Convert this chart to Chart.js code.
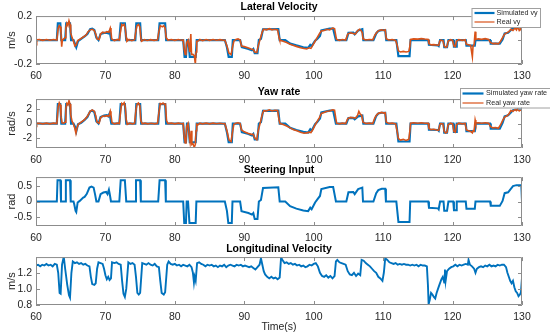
<!DOCTYPE html>
<html>
<head>
<meta charset="utf-8">
<script src="https://cdn.jsdelivr.net/npm/chart.js@4.4.0/dist/chart.umd.min.js"></script>
<style>
  html, body { margin: 0; padding: 0; background: #fff; }
  #wrap { position: relative; width: 550px; height: 334px; overflow: hidden; }
  #wrap canvas { position: absolute; left: 0; }
</style>
</head>
<body>
<div id="wrap">
  <canvas id="c1" width="550" height="82" style="top:0"></canvas>
  <canvas id="c2" width="550" height="82" style="top:82px"></canvas>
  <canvas id="c3" width="550" height="82" style="top:163px"></canvas>
  <canvas id="c4" width="550" height="91" style="top:243px"></canvas>
</div>
<script>
// datos: [tiempo (s), valor]
const vySim = [[60,0],[63.0,0],[63.15,0.14],[63.5,0.14],[63.65,0],[64.2,0],[64.35,0.14],[64.9,0.14],[65.05,0],[65.4,0],[65.6,-0.03],[65.8,-0.06],[66.05,-0.01],[66.5,0.01],[67.0,0.03],[67.4,0.05],[67.8,0.09],[68.1,0.095],[68.4,0.085],[68.7,0.02],[69.0,0],[69.3,0.05],[69.8,0.06],[70.2,0.06],[70.4,0.055],[70.6,0.075],[70.85,0],[72.0,0],[72.2,0.14],[72.8,0.14],[73.0,0],[74.3,0],[74.45,0.14],[75.0,0.14],[75.15,0],[77.6,0],[77.8,0.14],[78.6,0.14],[78.75,0],[81.2,0],[81.4,-0.14],[81.6,-0.14],[81.75,0],[81.95,0],[82.15,-0.14],[83.0,-0.14],[83.15,0],[87.2,0],[87.5,-0.06],[87.75,-0.14],[88.2,-0.14],[88.35,0],[89.4,0],[89.65,-0.06],[90.6,-0.075],[91.1,-0.085],[91.3,-0.075],[91.5,-0.11],[91.9,-0.11],[92.1,0],[92.4,0.01],[92.7,0.09],[94.9,0.092],[95.1,0],[95.9,0],[96.6,-0.03],[97.5,-0.045],[98.5,-0.06],[99.2,-0.065],[99.5,-0.04],[99.7,-0.05],[100.2,-0.005],[100.5,0.01],[100.9,0.035],[101.1,0.08],[102.3,0.095],[102.8,0.095],[103.2,0],[104.7,0],[105.0,0.06],[105.7,0.062],[105.9,0.048],[106.4,0.08],[107.0,0.09],[107.15,0],[108.6,0],[109.0,0.055],[109.3,0.075],[109.8,0.082],[110.3,0.082],[110.45,0],[111.9,0],[112.2,-0.135],[113.8,-0.135],[113.95,0],[116.5,0],[116.6,-0.04],[117.9,-0.045],[118.0,-0.05],[118.2,0],[118.7,0],[118.8,-0.06],[119.2,-0.06],[119.4,0],[120.1,0],[120.2,-0.056],[120.5,-0.056],[120.6,0],[121.9,0],[122.0,-0.046],[123.2,-0.046],[123.3,0],[125.4,0],[125.5,-0.03],[126.8,-0.03],[127.2,0.005],[127.5,0.055],[128.0,0.06],[128.7,0.1],[129.2,0.106],[130,0.106]];

const vyReal = [[60,0],[60.1,-0.015],[60.2,0.002],[60.5,0.003],[61,-0.003],[61.5,0.004],[62,-0.002],[62.5,0.004],[63.0,0],[63.1,0.05],[63.2,0.1],[63.35,0.12],[63.5,0.11],[63.6,0.06],[63.7,-0.055],[63.8,0],[64.0,0.01],[64.2,0.02],[64.3,0.1],[64.45,0.14],[64.6,0.12],[64.75,0.16],[64.9,0.13],[65.0,0.06],[65.2,0.02],[65.4,-0.01],[65.6,-0.05],[65.8,-0.04],[66.0,-0.005],[66.4,0.01],[66.8,0.025],[67.2,0.04],[67.5,0.07],[67.8,0.085],[68.1,0.09],[68.4,0.08],[68.6,0.05],[68.8,0.01],[69.1,0.005],[69.3,0.05],[69.6,0.065],[69.9,0.06],[70.2,0.07],[70.5,0.065],[70.7,0.1],[70.8,0.07],[70.9,0.01],[71.3,-0.005],[71.7,0.005],[72.0,0],[72.2,0.08],[72.35,0.13],[72.5,0.12],[72.7,0.13],[72.85,0.1],[73.0,0.02],[73.1,-0.01],[73.4,0.005],[73.8,-0.005],[74.2,0.003],[74.4,0.08],[74.55,0.12],[74.75,0.13],[74.95,0.11],[75.1,0.02],[75.2,-0.01],[75.6,0.004],[76,-0.004],[76.5,0.003],[77,-0.003],[77.5,0.002],[77.7,0.07],[77.9,0.12],[78.2,0.11],[78.4,0.12],[78.6,0.1],[78.75,0.02],[79,0],[79.5,0.004],[80,-0.003],[80.5,0.004],[81,-0.002],[81.2,0],[81.35,-0.08],[81.5,-0.12],[81.6,-0.1],[81.7,-0.02],[81.9,0],[82.05,-0.06],[82.15,-0.1],[82.3,0.05],[82.4,-0.12],[82.6,-0.12],[82.8,-0.13],[82.95,-0.2],[83.05,-0.1],[83.15,-0.01],[83.3,-0.01],[83.6,0.005],[84,-0.005],[84.5,0.004],[85,-0.003],[85.5,0.004],[86,-0.002],[86.5,0.003],[87,-0.002],[87.2,0],[87.5,-0.05],[87.8,-0.11],[88.1,-0.12],[88.3,-0.06],[88.5,-0.01],[88.8,0.005],[89.1,0.01],[89.4,0],[89.6,-0.05],[90.0,-0.055],[90.5,-0.065],[91.0,-0.075],[91.3,-0.08],[91.5,-0.1],[91.8,-0.105],[92.0,-0.05],[92.3,0.01],[92.6,0.07],[92.8,0.09],[93.2,0.085],[93.6,0.095],[94,0.085],[94.4,0.09],[94.8,0.085],[95.0,0.02],[95.1,0],[95.6,-0.01],[96.1,-0.02],[96.6,-0.035],[97.1,-0.045],[97.6,-0.055],[98.1,-0.065],[98.6,-0.07],[99.0,-0.075],[99.3,-0.065],[99.6,-0.07],[99.9,-0.04],[100.2,-0.01],[100.5,0.02],[100.8,0.05],[101.1,0.075],[101.5,0.08],[101.9,0.09],[102.3,0.085],[102.7,0.1],[103.0,0.095],[103.2,0.03],[103.3,0.005],[103.7,-0.003],[104.1,0.004],[104.6,0],[104.9,0.05],[105.3,0.06],[105.7,0.055],[106.0,0.05],[106.3,0.075],[106.6,0.09],[106.8,0.08],[107.0,0.06],[107.1,0.01],[107.5,0],[108.0,0.005],[108.5,0.002],[108.8,0.04],[109.1,0.065],[109.4,0.08],[109.8,0.085],[110.1,0.08],[110.3,0.085],[110.45,0.01],[110.8,0],[111.3,0.004],[111.8,-0.003],[112.0,-0.04],[112.2,-0.09],[112.5,-0.1],[112.9,-0.095],[113.3,-0.1],[113.7,-0.095],[113.85,-0.05],[113.95,0.005],[114.4,0.01],[115,0.008],[115.5,0.012],[116,0.008],[116.5,0.005],[116.6,-0.03],[116.9,-0.04],[117.3,-0.038],[117.7,-0.042],[118.0,-0.045],[118.15,-0.01],[118.3,0],[118.6,-0.005],[118.8,-0.05],[119.0,-0.06],[119.2,-0.055],[119.35,-0.01],[119.7,0.003],[120.0,-0.002],[120.2,-0.05],[120.4,-0.055],[120.55,-0.01],[120.9,0.004],[121.4,-0.003],[121.8,0.002],[122.0,-0.035],[122.3,-0.04],[122.6,-0.045],[122.85,-0.14],[122.95,-0.05],[123.1,-0.04],[123.25,0.07],[123.35,0.005],[123.7,0.01],[124.2,0.006],[124.7,0.012],[125.2,0.005],[125.45,-0.02],[125.8,-0.03],[126.2,-0.028],[126.6,-0.032],[126.9,-0.01],[127.2,0.02],[127.5,0.05],[127.8,0.06],[128.1,0.07],[128.4,0.09],[128.7,0.08],[129.0,0.1],[129.2,0.085],[129.4,0.11],[129.6,0.08],[129.8,0.095],[130,0.07]];

const yawSim = [[60,0],[63.0,0],[63.15,2.7],[63.5,2.7],[63.65,0],[64.2,0],[64.35,2.7],[64.9,2.7],[65.05,0],[65.4,0],[65.6,-0.4],[65.8,-1.1],[66.05,-0.1],[66.5,0.1],[67.0,0.5],[67.4,0.9],[67.8,1.7],[68.1,1.8],[68.4,1.6],[68.7,0.3],[69.0,0],[69.3,0.9],[69.8,1.1],[70.2,1.15],[70.4,1.0],[70.6,1.4],[70.85,0],[72.0,0],[72.2,2.7],[72.8,2.7],[73.0,0],[74.3,0],[74.45,2.7],[75.0,2.7],[75.15,0],[77.6,0],[77.8,2.7],[78.6,2.7],[78.75,0],[81.2,0],[81.4,-2.6],[81.6,-2.6],[81.75,0],[81.95,0],[82.15,-2.6],[83.0,-2.6],[83.15,0],[87.2,0],[87.5,-1.2],[87.75,-2.6],[88.2,-2.6],[88.35,0],[89.4,0],[89.65,-1.2],[90.6,-1.45],[91.1,-1.65],[91.3,-1.45],[91.5,-2.2],[91.9,-2.2],[92.1,0],[92.4,0.2],[92.7,1.75],[94.9,1.8],[95.1,0],[95.9,0],[96.6,-0.6],[97.5,-0.9],[98.5,-1.15],[99.2,-1.25],[99.5,-0.8],[99.7,-1.0],[100.2,-0.1],[100.5,0.2],[100.9,0.7],[101.1,1.55],[102.3,1.8],[102.8,1.8],[103.2,0],[104.7,0],[105.0,0.75],[105.7,0.78],[105.9,0.6],[106.4,1.0],[107.0,1.1],[107.15,0],[108.6,0],[109.0,1.05],[109.3,1.4],[109.8,1.5],[110.3,1.5],[110.45,0],[111.9,0],[112.2,-2.5],[113.8,-2.5],[113.95,0],[116.5,0],[116.6,-0.85],[117.9,-0.9],[118.0,-1.0],[118.2,0],[118.7,0],[118.8,-1.25],[119.2,-1.25],[119.4,0],[120.1,0],[120.2,-1.15],[120.5,-1.15],[120.6,0],[121.9,0],[122.0,-1.05],[123.2,-1.05],[123.3,0],[125.4,0],[125.5,-0.7],[126.8,-0.7],[127.2,0.1],[127.5,1.0],[128.0,1.15],[128.7,1.85],[129.2,1.95],[130,1.95]];

const yawReal = [[60,-0.4],[60.1,0.05],[60.5,0.05],[61,-0.05],[61.5,0.06],[62,-0.04],[62.5,0.05],[63,0],[63.1,1.2],[63.2,2.4],[63.35,2.9],[63.5,2.6],[63.6,1.0],[63.75,0.1],[64.0,0.05],[64.2,0.2],[64.3,2.0],[64.45,2.8],[64.6,2.6],[64.75,3.2],[64.9,2.7],[65.0,1.2],[65.2,0.3],[65.4,-0.1],[65.6,-0.7],[65.75,-1.35],[65.9,-0.6],[66.1,-0.1],[66.5,0.2],[67.0,0.55],[67.4,1.0],[67.8,1.7],[68.1,1.9],[68.4,1.7],[68.6,1.1],[68.8,0.2],[69.1,0.05],[69.3,0.8],[69.6,1.05],[69.9,1.0],[70.2,1.1],[70.5,1.0],[70.7,1.7],[70.8,1.2],[70.95,0.1],[71.3,-0.05],[71.7,0.05],[72.0,0],[72.2,1.8],[72.35,2.8],[72.5,2.65],[72.7,2.9],[72.85,2.4],[73.0,0.5],[73.15,-0.1],[73.5,0.05],[73.9,-0.05],[74.2,0.03],[74.4,1.9],[74.55,2.7],[74.75,2.85],[74.95,2.5],[75.1,0.4],[75.3,-0.05],[75.7,0.05],[76.1,-0.05],[76.6,0.04],[77.1,-0.04],[77.5,0.03],[77.7,1.5],[77.9,2.8],[78.1,2.7],[78.3,2.85],[78.5,2.65],[78.65,2.7],[78.8,0.4],[79.0,0],[79.5,0.05],[80,-0.05],[80.5,0.05],[81,-0.03],[81.2,0],[81.35,-1.8],[81.5,-2.7],[81.6,-2.4],[81.7,-0.4],[81.9,0],[82.05,-1.5],[82.2,-2.6],[82.35,-1.0],[82.45,-2.9],[82.6,-2.8],[82.8,-3.3],[82.95,-2.9],[83.05,-1.0],[83.15,-0.1],[83.3,-0.2],[83.6,0.05],[84,-0.05],[84.5,0.05],[85,-0.04],[85.5,0.05],[86,-0.03],[86.5,0.04],[87,-0.03],[87.2,0],[87.5,-1.0],[87.8,-2.3],[88.1,-2.5],[88.3,-1.2],[88.5,-0.1],[88.8,0.05],[89.1,0.1],[89.4,0],[89.6,-0.9],[90.0,-1.15],[90.5,-1.35],[91.0,-1.5],[91.3,-1.5],[91.5,-2.0],[91.8,-2.25],[92.0,-1.0],[92.3,0.1],[92.6,1.3],[92.8,1.8],[93.2,1.75],[93.6,1.9],[94,1.75],[94.4,1.85],[94.8,1.8],[95.0,0.5],[95.15,0],[95.6,-0.15],[96.1,-0.35],[96.6,-0.6],[97.1,-0.85],[97.6,-1.0],[98.1,-1.2],[98.6,-1.35],[99.0,-1.3],[99.3,-1.2],[99.6,-1.25],[99.9,-0.8],[100.2,-0.2],[100.5,0.3],[100.8,0.8],[101.1,1.4],[101.5,1.55],[101.9,1.7],[102.3,1.75],[102.7,1.9],[103.0,1.85],[103.2,0.6],[103.3,0.05],[103.7,-0.05],[104.1,0.05],[104.6,0],[104.9,0.7],[105.3,0.85],[105.7,0.8],[106.0,0.75],[106.3,1.1],[106.5,1.7],[106.7,1.3],[106.9,1.15],[107.1,0.2],[107.5,0],[108.0,0.05],[108.5,0],[108.8,0.8],[109.1,1.25],[109.4,1.45],[109.8,1.55],[110.1,1.45],[110.3,1.5],[110.45,0.2],[110.8,0],[111.3,0.05],[111.8,-0.04],[112.0,-1.0],[112.2,-2.1],[112.5,-2.3],[112.9,-2.2],[113.3,-2.35],[113.7,-2.2],[113.85,-1.0],[113.95,0.05],[114.4,0.1],[115,0.05],[115.5,0.1],[116,0.05],[116.5,0.05],[116.6,-0.7],[116.9,-0.85],[117.3,-0.8],[117.7,-0.9],[118.0,-0.95],[118.15,-0.2],[118.3,0],[118.6,-0.05],[118.8,-1.1],[119.0,-1.3],[119.2,-1.2],[119.35,-0.2],[119.7,0.05],[120.0,-0.05],[120.2,-1.1],[120.4,-1.2],[120.55,-0.2],[120.9,0.05],[121.4,-0.05],[121.8,0.03],[122.0,-0.9],[122.3,-1.0],[122.6,-1.1],[122.85,-1.3],[122.95,-1.0],[123.1,-1.05],[123.25,0.5],[123.35,0.05],[123.7,0.1],[124.2,0.05],[124.7,0.1],[125.2,0.05],[125.45,-0.4],[125.8,-0.6],[126.2,-0.55],[126.6,-0.65],[126.9,-0.2],[127.2,0.4],[127.5,0.9],[127.8,1.05],[128.1,1.3],[128.4,1.8],[128.7,1.7],[129.0,1.95],[129.2,1.8],[129.4,2.0],[129.6,1.75],[129.8,1.9],[130,1.8]];

const steer = [[60,0],[63.0,0],[63.1,0.69],[63.5,0.69],[63.6,0],[64.2,0],[64.3,0.69],[64.9,0.69],[65.0,0],[65.4,0],[65.5,-0.08],[65.7,-0.3],[65.8,-0.34],[66.0,-0.03],[66.3,0.02],[66.8,0.13],[67.0,0.15],[67.3,0.24],[67.7,0.45],[68.0,0.48],[68.3,0.45],[68.5,0.24],[68.7,0],[69.0,0],[69.3,0.24],[69.7,0.29],[70.1,0.31],[70.3,0.24],[70.5,0.38],[70.6,0.27],[70.8,0],[72.0,0],[72.2,0.69],[72.8,0.69],[73.0,0],[74.3,0],[74.4,0.69],[75.0,0.69],[75.1,0],[77.6,0],[77.8,0.69],[78.6,0.69],[78.7,0],[81.2,0],[81.35,-0.69],[81.6,-0.69],[81.7,0],[81.9,0],[82.1,-0.69],[83.0,-0.69],[83.1,0],[87.2,0],[87.5,-0.3],[87.7,-0.69],[88.2,-0.69],[88.3,0],[89.4,0],[89.6,-0.31],[90.6,-0.37],[91.1,-0.42],[91.3,-0.37],[91.5,-0.56],[91.9,-0.56],[92.1,0],[92.4,0.05],[92.7,0.44],[94.9,0.46],[95.1,0],[95.9,0],[96.6,-0.15],[97.5,-0.23],[98.5,-0.29],[99.2,-0.31],[99.5,-0.2],[99.7,-0.25],[100.2,-0.03],[100.5,0.06],[100.9,0.18],[101.1,0.4],[102.3,0.47],[102.8,0.47],[103.2,0],[104.7,0],[105.0,0.3],[105.7,0.31],[105.9,0.24],[106.4,0.4],[107.0,0.45],[107.1,0],[108.6,0],[109.0,0.27],[109.3,0.37],[109.8,0.41],[110.3,0.41],[110.4,0],[111.9,0],[112.2,-0.66],[113.8,-0.66],[113.9,0],[116.5,0],[116.6,-0.2],[117.9,-0.22],[118.0,-0.25],[118.2,0],[118.7,0],[118.8,-0.3],[119.2,-0.3],[119.4,0],[120.1,0],[120.2,-0.28],[120.5,-0.28],[120.6,0],[121.9,0],[122.0,-0.23],[123.2,-0.23],[123.3,0],[125.4,0],[125.5,-0.14],[126.8,-0.14],[127.2,0.02],[127.5,0.27],[128.0,0.3],[128.7,0.5],[129.2,0.53],[129.9,0.53],[130,0]];

const longV = [[60,1.29],[60.3,1.3],[60.6,1.28],[60.9,1.3],[61.2,1.29],[61.5,1.31],[61.8,1.29],[62.1,1.3],[62.4,1.28],[62.7,1.31],[63.0,1.3],[63.2,1.2],[63.4,0.95],[63.55,0.94],[63.75,1.3],[64.0,1.4],[64.2,1.25],[64.5,1.05],[64.75,0.92],[64.9,0.89],[65.1,1.2],[65.3,1.34],[65.6,1.32],[65.9,1.33],[66.2,1.31],[66.5,1.32],[66.8,1.3],[67.1,1.31],[67.4,1.29],[67.7,1.28],[67.9,1.15],[68.1,1.06],[68.4,1.05],[68.6,1.07],[68.8,1.25],[69.0,1.33],[69.3,1.32],[69.6,1.31],[69.8,1.25],[70.0,1.17],[70.2,1.12],[70.4,1.15],[70.6,1.11],[70.8,1.13],[70.95,1.33],[71.3,1.32],[71.6,1.33],[71.9,1.31],[72.2,1.3],[72.4,1.1],[72.6,0.94],[72.8,0.9],[73.0,1.0],[73.3,1.33],[73.6,1.31],[73.9,1.32],[74.2,1.3],[74.4,1.15],[74.6,0.95],[74.8,0.93],[75.0,0.95],[75.3,1.32],[75.6,1.31],[75.9,1.3],[76.2,1.32],[76.5,1.3],[76.8,1.29],[77.1,1.31],[77.4,1.28],[77.7,1.27],[77.9,1.1],[78.1,0.95],[78.4,0.93],[78.6,0.96],[78.9,1.3],[79.1,1.34],[79.4,1.31],[79.7,1.3],[80.0,1.31],[80.3,1.29],[80.6,1.3],[80.9,1.28],[81.2,1.3],[81.5,1.29],[81.8,1.28],[82.1,1.3],[82.4,1.27],[82.6,1.2],[82.75,1.08],[82.85,1.15],[83.0,1.1],[83.2,1.32],[83.5,1.33],[83.8,1.31],[84.1,1.3],[84.4,1.28],[84.7,1.3],[85.0,1.29],[85.3,1.3],[85.6,1.28],[85.9,1.29],[86.2,1.27],[86.5,1.29],[86.8,1.28],[87.1,1.3],[87.4,1.27],[87.7,1.29],[88.0,1.3],[88.3,1.29],[88.6,1.28],[88.9,1.3],[89.2,1.29],[89.5,1.3],[89.8,1.28],[90.1,1.29],[90.4,1.28],[90.7,1.27],[91.0,1.28],[91.3,1.26],[91.6,1.24],[91.9,1.27],[92.2,1.3],[92.4,1.38],[92.6,1.3],[92.8,1.22],[93.0,1.18],[93.3,1.15],[93.6,1.13],[93.9,1.15],[94.2,1.13],[94.5,1.14],[94.8,1.12],[95.1,1.14],[95.3,1.39],[95.5,1.36],[95.8,1.32],[96.1,1.33],[96.4,1.31],[96.7,1.32],[97.0,1.3],[97.3,1.31],[97.6,1.29],[97.9,1.3],[98.2,1.28],[98.5,1.29],[98.8,1.27],[99.1,1.28],[99.4,1.3],[99.7,1.29],[100.0,1.31],[100.3,1.32],[100.6,1.28],[100.9,1.2],[101.2,1.16],[101.5,1.15],[101.8,1.17],[102.1,1.14],[102.4,1.16],[102.7,1.13],[103.0,1.16],[103.2,1.34],[103.4,1.36],[103.7,1.33],[104.0,1.32],[104.3,1.31],[104.6,1.3],[104.9,1.22],[105.2,1.18],[105.5,1.17],[105.8,1.2],[106.1,1.16],[106.4,1.19],[106.7,1.17],[106.9,1.36],[107.2,1.35],[107.5,1.32],[107.8,1.3],[108.1,1.28],[108.4,1.25],[108.7,1.22],[109.0,1.2],[109.3,1.15],[109.6,1.13],[109.9,1.1],[110.1,1.2],[110.3,1.38],[110.6,1.36],[110.9,1.33],[111.2,1.32],[111.5,1.31],[111.8,1.32],[112.1,1.3],[112.4,1.31],[112.7,1.3],[113.0,1.31],[113.3,1.3],[113.6,1.3],[113.9,1.29],[114.2,1.3],[114.5,1.29],[114.8,1.3],[115.1,1.28],[115.4,1.3],[115.7,1.29],[116.0,1.29],[116.3,1.28],[116.45,1.05],[116.55,0.81],[116.7,0.86],[116.9,0.95],[117.1,0.93],[117.3,0.9],[117.5,0.88],[117.7,0.95],[117.9,1.0],[118.1,1.05],[118.4,1.12],[118.6,1.15],[118.8,1.08],[118.9,1.24],[119.0,1.1],[119.2,1.22],[119.5,1.25],[119.8,1.27],[120.1,1.28],[120.4,1.3],[120.7,1.28],[121.0,1.3],[121.3,1.29],[121.6,1.3],[121.9,1.31],[122.2,1.3],[122.3,1.36],[122.5,1.3],[122.8,1.28],[123.1,1.25],[123.3,1.2],[123.5,1.25],[123.8,1.27],[124.1,1.28],[124.4,1.27],[124.7,1.29],[125.0,1.28],[125.3,1.3],[125.6,1.28],[125.9,1.29],[126.2,1.28],[126.5,1.3],[126.8,1.29],[127.1,1.3],[127.4,1.3],[127.7,1.27],[127.9,1.2],[128.1,1.15],[128.3,1.1],[128.5,1.07],[128.7,1.1],[128.9,1.02],[129.1,0.97],[129.3,0.95],[129.5,0.91],[129.7,0.93],[129.85,0.96],[130,1.14]];

const xTicks = [60, 70, 80, 90, 100, 110, 120, 130];

const BLUE = '#0072BD';
const ORANGE = '#D95319';
const TXT = '#262626';
const FONT = '"Liberation Sans", Arial, Helvetica, sans-serif';

const toXY = pts => pts.map(([x, y]) => ({ x, y }));

// caja del eje y marcas hacia dentro (estilo MATLAB)
const axesBox = {
  id: 'axesBox',
  afterDatasetsDraw(chart) {
    const { ctx, chartArea: a, scales: { x, y } } = chart;
    ctx.save();
    ctx.strokeStyle = '#8c8c8c';
    ctx.lineWidth = 1;
    ctx.beginPath();
    ctx.rect(a.left + 0.5, a.top + 0.5, a.right - a.left - 1, a.bottom - a.top - 1);
    x.ticks.forEach(t => {
      const px = Math.round(x.getPixelForValue(t.value)) + 0.5;
      ctx.moveTo(px, a.bottom); ctx.lineTo(px, a.bottom - 4);
      ctx.moveTo(px, a.top); ctx.lineTo(px, a.top + 4);
    });
    y.ticks.forEach(t => {
      const py = Math.round(y.getPixelForValue(t.value)) + 0.5;
      ctx.moveTo(a.left, py); ctx.lineTo(a.left + 4, py);
      ctx.moveTo(a.right, py); ctx.lineTo(a.right - 4, py);
    });
    ctx.stroke();
    ctx.restore();
  }
};

// leyenda con recuadro, como la de la figura original
const boxLegend = {
  id: 'boxLegend',
  afterDraw(chart, args, opts) {
    if (!opts || !opts.box) return;
    const { ctx } = chart;
    const [bx, by, bw, bh] = opts.box;
    ctx.save();
    ctx.fillStyle = '#fff';
    ctx.fillRect(bx, by, bw, bh);
    ctx.strokeStyle = '#a0a0a0';
    ctx.lineWidth = 1;
    ctx.strokeRect(bx + 0.5, by + 0.5, bw, bh);
    ctx.font = opts.fontSize + 'px ' + FONT;
    ctx.textBaseline = 'middle';
    ctx.fillStyle = TXT;
    opts.labels.forEach((lab, i) => {
      const ly = by + opts.rows[i];
      ctx.strokeStyle = opts.colors[i];
      ctx.lineWidth = opts.widths[i];
      ctx.beginPath();
      ctx.moveTo(bx + opts.line[0], ly);
      ctx.lineTo(bx + opts.line[1], ly);
      ctx.stroke();
      ctx.fillText(lab, bx + opts.textX, ly);
    });
    ctx.restore();
  }
};

function makePanel(id, cfg) {
  const datasets = cfg.series.map(s => ({
    label: s.label,
    data: toXY(s.data),
    borderColor: s.color,
    borderWidth: s.width,
    order: s.order,
    pointRadius: 0,
    tension: 0,
    fill: false
  }));

  return new Chart(document.getElementById(id), {
    type: 'line',
    data: { datasets },
    plugins: [axesBox, boxLegend],
    options: {
      responsive: false,
      animation: false,
      events: [],
      layout: { padding: { left: 0, right: 28, top: 0, bottom: 0 } },
      plugins: {
        legend: { display: false },
        tooltip: { enabled: false },
        title: {
          display: true,
          text: cfg.title,
          fullSize: false,
          color: '#000',
          font: { family: FONT, size: 10.5, weight: 'bold', lineHeight: 1.15 },
          padding: cfg.titlePad
        },
        boxLegend: cfg.legend || {}
      },
      scales: {
        x: {
          type: 'linear',
          min: 60,
          max: 130,
          afterBuildTicks: s => { s.ticks = xTicks.map(v => ({ value: v })); },
          afterFit: s => { s.height = cfg.xHeight; s.paddingLeft = 0; s.paddingRight = 0; },
          grid: { display: false, drawTicks: false },
          border: { display: false },
          ticks: { color: TXT, padding: 5.5, maxRotation: 0, autoSkip: false, font: { family: FONT, size: 10.5 } },
          title: cfg.xTitle ? {
            display: true, text: cfg.xTitle, color: TXT,
            font: { family: FONT, size: 10.5, lineHeight: 1.2 }, padding: { top: 0, bottom: 1 }
          } : { display: false }
        },
        y: {
          min: cfg.yMin,
          max: cfg.yMax,
          afterFit: s => { s.width = 36; s.paddingTop = 0; s.paddingBottom = 0; },
          grid: { display: false, drawTicks: false },
          border: { display: false },
          ticks: { color: TXT, padding: 4, stepSize: cfg.yStep, includeBounds: false, font: { family: FONT, size: 10.5 } },
          title: {
            display: true, text: cfg.yTitle, color: TXT,
            font: { family: FONT, size: 11, lineHeight: 1.2 }, padding: { top: 5, bottom: 0 }
          }
        }
      }
    }
  });
}

makePanel('c1', {
  title: 'Lateral Velocity', titlePad: { top: 1, bottom: 3 },
  yTitle: 'm/s', yMin: -0.2, yMax: 0.2, yStep: 0.2, xHeight: 18,
  series: [
    { label: 'Simulated vy', data: vySim, color: BLUE, width: 2.2, order: 2 },
    { label: 'Real vy', data: vyReal, color: ORANGE, width: 1.6, order: 1 }
  ],
  legend: { box: [471.5, 8, 68.5, 19], rows: [5, 14], line: [3, 23], textX: 25, fontSize: 7.2,
            labels: ['Simulated vy', 'Real vy'], colors: [BLUE, ORANGE], widths: [2.2, 1.2] }
});

makePanel('c2', {
  title: 'Yaw rate', titlePad: { top: 4, bottom: 1 },
  yTitle: 'rad/s', yMin: -3.4, yMax: 3.4, yStep: 2, xHeight: 16,
  series: [
    { label: 'Simulated yaw rate', data: yawSim, color: BLUE, width: 2.2, order: 2 },
    { label: 'Real yaw rate', data: yawReal, color: ORANGE, width: 1.6, order: 1 }
  ],
  legend: { box: [460, 6, 95, 19.5], rows: [5.5, 15], line: [2.5, 23.5], textX: 26, fontSize: 7.2,
            labels: ['Simulated yaw rate', 'Real yaw rate'], colors: [BLUE, ORANGE], widths: [2.2, 1.2] }
});

makePanel('c3', {
  title: 'Steering Input', titlePad: { top: 1, bottom: 1 },
  yTitle: 'rad', yMin: -0.79, yMax: 0.79, yStep: 0.5, xHeight: 19,
  series: [
    { label: 'Steering', data: steer, color: BLUE, width: 2, order: 1 }
  ]
});

makePanel('c4', {
  title: 'Longitudinal Velocity', titlePad: { top: 0, bottom: 2 },
  yTitle: 'm/s', yMin: 0.8, yMax: 1.395, yStep: 0.2, xHeight: 29, xTitle: 'Time(s)',
  series: [
    { label: 'vx', data: longV, color: BLUE, width: 1.9, order: 1 }
  ]
});
</script>
</body>
</html>
